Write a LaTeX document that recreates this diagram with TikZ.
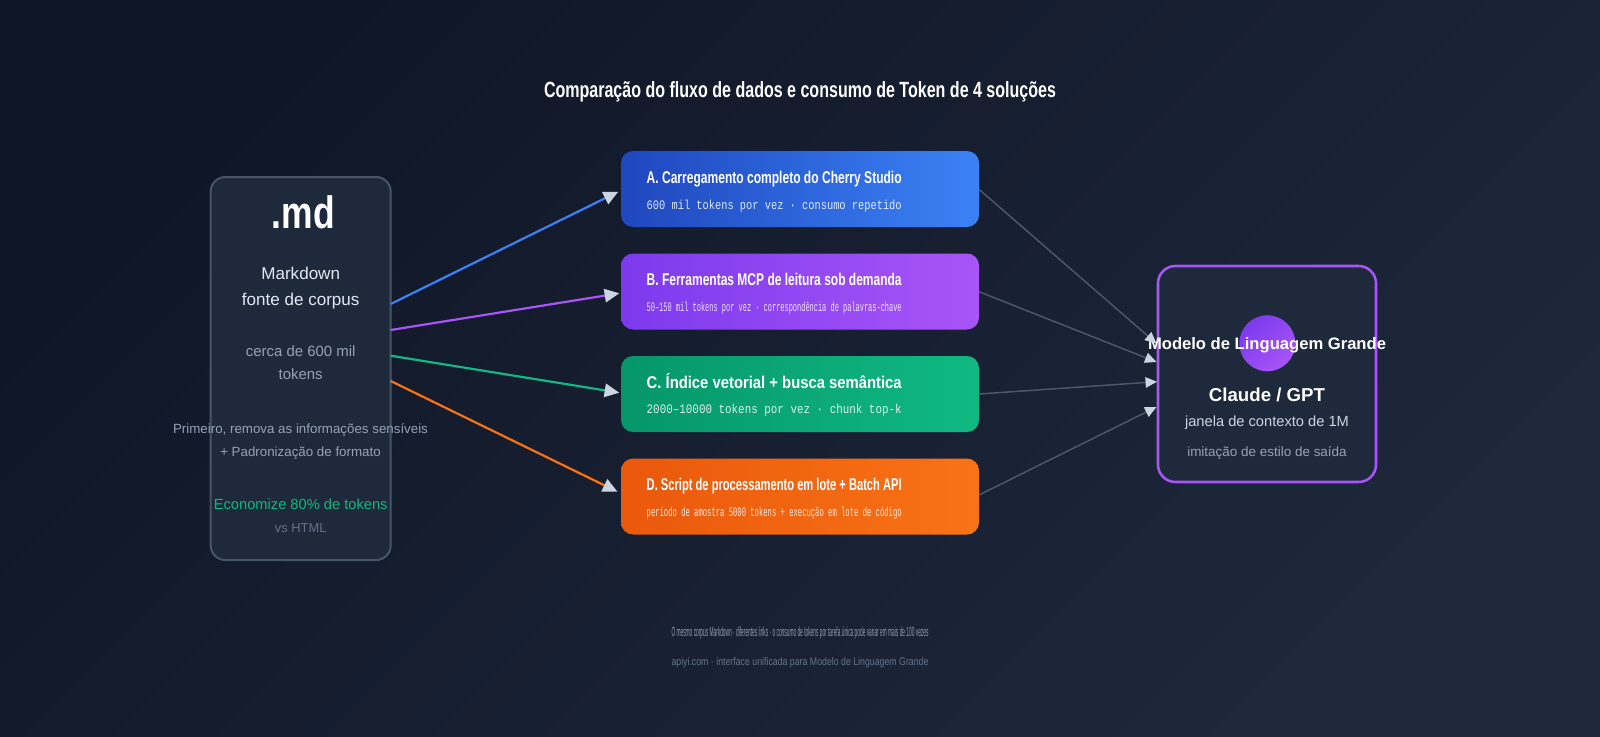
\documentclass[tikz,border=0pt]{standalone}
\usepackage{fontspec}
\usepackage{graphicx}
\setmainfont{Liberation Sans}
\setmonofont{Liberation Mono}
\usetikzlibrary{arrows.meta,calc}
\definecolor{bgA}{HTML}{0F1627}
\definecolor{bgB}{HTML}{1E283B}
\definecolor{panel}{HTML}{1E293B}
\definecolor{panelborder}{HTML}{475569}
\definecolor{llmborder}{HTML}{A855F7}
\definecolor{tipc}{HTML}{CBD5E1}
\definecolor{cblue}{HTML}{3B82F6}
\definecolor{cpurple}{HTML}{A855F7}
\definecolor{cgreen}{HTML}{10B981}
\definecolor{corange}{HTML}{F97316}
\definecolor{gA1}{HTML}{1F47BE}
\definecolor{gA2}{HTML}{3B82F6}
\definecolor{gB1}{HTML}{7C3AED}
\definecolor{gB2}{HTML}{A855F7}
\definecolor{gC1}{HTML}{059669}
\definecolor{gC2}{HTML}{10B981}
\definecolor{gD1}{HTML}{EA580C}
\definecolor{gD2}{HTML}{F97316}
\definecolor{rline}{HTML}{4B586B}
\definecolor{t1}{HTML}{E2E8F0}
\definecolor{t2}{HTML}{94A3B8}
\definecolor{t3}{HTML}{64748B}
\definecolor{t4}{HTML}{CBD5E1}
\definecolor{foot1}{HTML}{8F9BAD}
\newcommand{\fitw}[2]{\resizebox{#1}{\height}{#2}}
\begin{document}
\begin{tikzpicture}[x=0.75pt,y=-0.75pt,
  txt/.style={inner sep=0pt, outer sep=0pt, anchor=base},
  txtw/.style={inner sep=0pt, outer sep=0pt, anchor=base west},
  card/.style={rounded corners=9pt, minimum width=268.5pt, minimum height=57pt, inner sep=0pt, outer sep=0pt},
  cardtitle/.style={txtw, text=white},
  cardsub/.style={txtw, text=white, text opacity=0.85},
  larrow/.style={line width=1.65pt, -{Triangle[length=11pt,width=10pt,color=tipc]}},
  rarrow/.style={line width=1.1pt, draw=rline, -{Triangle[length=8.6pt,width=7.8pt,color=tipc]}}
]
\useasboundingbox (0,0) rectangle (1600,736);
\shade[top color=bgA, bottom color=bgB, shading angle=45] (0,0) rectangle (1600,736);

% title
\node[txt, text=white] (title) at (800,97) {\fitw{384pt}{\fontsize{16.5pt}{20pt}\selectfont\bfseries Comparação do fluxo de dados e consumo de Token de 4 soluções}};

% left source box
\node[draw=panelborder, fill=panel, line width=1.5pt, rounded corners=11pt, minimum width=135pt, minimum height=287.25pt, inner sep=0pt, outer sep=0pt] (md) at (300.7,368.5) {};
\node[txt, text=white] (mdicon) at (303.4,228.3) {\fitw{47.25pt}{\fontsize{34pt}{40pt}\selectfont\bfseries .md}};
\node[txt, text=t1] (mdname1) at (300.7,279.3) {\fontsize{12.8pt}{15pt}\selectfont Markdown};
\node[txt, text=t1] (mdname2) at (300.7,305) {\fontsize{12.8pt}{15pt}\selectfont fonte de corpus};
\node[txt, text=t2] (mdsize1) at (300.7,356.7) {\fontsize{11.2pt}{13pt}\selectfont cerca de 600 mil};
\node[txt, text=t2] (mdsize2) at (300.7,379) {\fontsize{11.2pt}{13pt}\selectfont tokens};
\node[txt, text=t2] (mdprep1) at (300.5,433.7) {\fontsize{10pt}{12pt}\selectfont Primeiro, remova as informações sensíveis};
\node[txt, text=t2] (mdprep2) at (300.5,456) {\fontsize{10pt}{12pt}\selectfont + Padronização de formato};
\node[txt, text=cgreen] (mdsave) at (300.7,509.7) {\fontsize{11pt}{13pt}\selectfont Economize 80\% de tokens};
\node[txt, text=t3] (mdvs) at (300.7,532.3) {\fontsize{9.7pt}{12pt}\selectfont vs HTML};

% cards
\node[card, left color=gA1, right color=gA2] (A) at (800,189) {};
\node[card, left color=gB1, right color=gB2] (B) at (800,291.5) {};
\node[card, left color=gC1, right color=gC2] (C) at (800,394) {};
\node[card, left color=gD1, right color=gD2] (D) at (800,496.5) {};

\node[cardtitle] (Atitle) at (646.7,183.3) {\fitw{191.25pt}{\fontsize{12.75pt}{15pt}\selectfont\bfseries A. Carregamento completo do Cherry Studio}};
\node[cardsub] (Asub) at (646.7,209) {\fitw{191.25pt}{\fontsize{9.75pt}{12pt}\selectfont\ttfamily 600 mil tokens por vez · consumo repetido}};
\node[cardtitle] (Btitle) at (646.7,285.6) {\fitw{191.25pt}{\fontsize{12.75pt}{15pt}\selectfont\bfseries B. Ferramentas MCP de leitura sob demanda}};
\node[cardsub] (Bsub) at (646.7,311.3) {\fitw{191.25pt}{\fontsize{9.75pt}{12pt}\selectfont\ttfamily 50–150 mil tokens por vez · correspondência de palavras-chave}};
\node[cardtitle] (Ctitle) at (646.7,388.3) {\fitw{191.25pt}{\fontsize{12.75pt}{15pt}\selectfont\bfseries C. Índice vetorial + busca semântica}};
\node[cardsub] (Csub) at (646.7,413.8) {\fitw{191.25pt}{\fontsize{9.75pt}{12pt}\selectfont\ttfamily 2000–10000 tokens por vez · chunk top-k}};
\node[cardtitle] (Dtitle) at (646.7,490.8) {\fitw{191.25pt}{\fontsize{12.75pt}{15pt}\selectfont\bfseries D. Script de processamento em lote + Batch API}};
\node[cardsub] (Dsub) at (646.7,516.3) {\fitw{191.25pt}{\fontsize{9.75pt}{12pt}\selectfont\ttfamily período de amostra 5000 tokens + execução em lote de código}};

% LLM box
\node[draw=llmborder, fill=panel, line width=1.9pt, rounded corners=13pt, minimum width=163.5pt, minimum height=162pt, inner sep=0pt, outer sep=0pt] (llm) at (1267,374) {};
\node[circle, minimum size=42pt, inner sep=0pt, top color=gB1, bottom color=gB2, shading angle=45] (llmdot) at (1267.3,343.3) {};
\node[txt, text=white] (llmname) at (1267,349) {\fontsize{12.45pt}{15pt}\selectfont\bfseries Modelo de Linguagem Grande};
\node[txt, text=white] (llmmodel) at (1267,401) {\fontsize{14pt}{17pt}\selectfont\bfseries Claude / GPT};
\node[txt, text=t4] (llmctx) at (1267,426.7) {\fontsize{11pt}{13pt}\selectfont janela de contexto de 1M};
\node[txt, text=t2] (llmstyle) at (1267,456) {\fontsize{10.1pt}{12pt}\selectfont imitação de estilo de saída};

% left connectors
\draw[larrow, draw=cblue] ($(md.east)+(0,-64.5)$) -- ($(A.west)+(-2.7,2.7)$);
\draw[larrow, draw=cpurple] ($(md.east)+(0,-38.5)$) -- ($(B.west)+(-1.7,1.8)$);
\draw[larrow, draw=cgreen] ($(md.east)+(0,-12.8)$) -- ($(C.west)+(-1.7,-1.3)$);
\draw[larrow, draw=corange] ($(md.east)+(0,12.5)$) -- ($(D.west)+(-3.5,-4.8)$);

% right connectors
\draw[rarrow] ($(A.east)+(0,0.3)$) -- ($(llm.west)+(-1.5,-30.5)$);
\draw[rarrow] ($(B.east)+(0,0.2)$) -- ($(llm.west)+(-1.5,-12)$);
\draw[rarrow] (C.east) -- ($(llm.west)+(-1,7.7)$);
\draw[rarrow] ($(D.east)+(0,-1.5)$) -- ($(llm.west)+(-1.5,33)$);

% footer
\node[txt, text=foot1] (foot1) at (800,636.7) {\fitw{192.75pt}{\fontsize{10pt}{12pt}\selectfont O mesmo corpus Markdown · diferentes links · o consumo de tokens por tarefa única pode variar em mais de 100 vezes}};
\node[txt, text=t3] (foot2) at (800,665) {\fitw{192.75pt}{\fontsize{8.25pt}{10pt}\selectfont apiyi.com · interface unificada para Modelo de Linguagem Grande}};
\end{tikzpicture}
\end{document}
